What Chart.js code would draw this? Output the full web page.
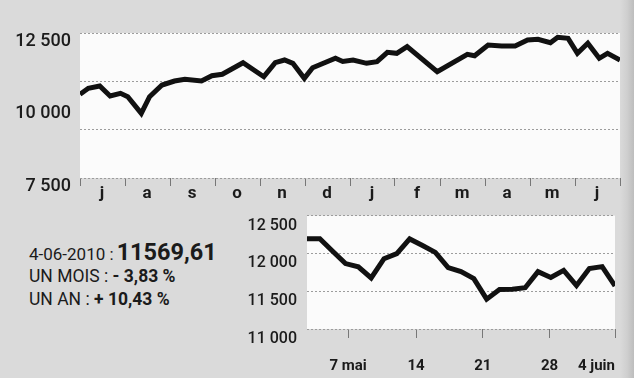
<!DOCTYPE html>
<html lang="fr">
<head>
<meta charset="utf-8">
<title>Indice — un an / un mois</title>
<script src="https://cdn.jsdelivr.net/npm/chart.js@4/dist/chart.umd.min.js"></script>
<style>
  html, body { margin: 0; padding: 0; }
  body {
    width: 634px; height: 378px; position: relative; overflow: hidden;
    background: linear-gradient(to right, #dadada 0, #dadada 620px, #cfcfcf 627px, #bdbdbd 634px);
    font-family: Roboto, "Liberation Sans", sans-serif; color: #1b1b1b;
  }
  canvas { position: absolute; }
  #yearChart { left: 0; top: 0; }
  #monthChart { left: 230px; top: 196px; }
  .info { position: absolute; left: 29px; display: flex; align-items: baseline; white-space: pre; line-height: 1; }
  .info b { font-weight: 700; }
  #l1 { top: 241px; font-size: 17px; }
  #l1 b { font-size: 23.5px; margin-left: 3px; }
  #l2 { top: 268px; font-size: 17.5px; }
  #l3 { top: 291px; font-size: 17.5px; }
</style>
</head>
<body>
<canvas id="yearChart" width="634" height="210"></canvas>
<canvas id="monthChart" width="404" height="182"></canvas>
<div class="info" id="l1"><span>4-06-2010 :</span><b id="close"></b></div>
<div class="info" id="l2"><span>UN MOIS : </span><b>- 3,83 %</b></div>
<div class="info" id="l3"><span>UN AN : </span><b>+ 10,43 %</b></div>

<script>
// Closing value of 4 June 2010 (last point of both curves)
const lastClose = 11569.61;

// One year, weekly closes (x = weeks since early July 2009)
const monthLetters = ['j', 'a', 's', 'o', 'n', 'd', 'j', 'f', 'm', 'a', 'm', 'j'];
const yearWeeks = [0, 0.8, 1.9, 2.9, 3.9, 4.6, 5.9, 6.7, 7.9, 9.1,
  10.1, 11.7, 12.7, 13.7, 15.7, 17.7, 18.8, 19.7, 20.5, 21.6,
  22.4, 24.6, 25.3, 26.3, 27.6, 28.6, 29.6, 30.5, 31.5, 34.4,
  37.3, 38.0, 39.3, 40.6, 41.9, 43.1, 44.1, 45.3, 46.0, 47.0,
  47.9, 48.9, 50.0, 50.8, 52.0];
const yearValues = [10386, 10593, 10672, 10328, 10421, 10303, 9731, 10303, 10707, 10845,
  10903, 10845, 11028, 11076, 11476, 10993, 11476, 11569, 11455, 10938,
  11303, 11628, 11517, 11569, 11455, 11510, 11834, 11800, 12028, 11166,
  11766, 11717, 12086, 12052, 12052, 12259, 12283, 12166, 12352, 12317,
  11800, 12145, 11628, 11800, lastClose];
const yearTickValues = [7500, 10000, 12500];
const yearGridValues = [7500, 9166.67, 10833.33, 12500];

// Last month, daily closes (x = session number)
const monthValues = [12194, 12194, 12029, 11865, 11822, 11675, 11930, 11996, 12191, 12105,
  12013, 11813, 11759, 11667, 11395, 11522, 11525, 11546, 11759, 11682,
  11776, 11575, 11799, 11825, lastClose];
const monthTickAt = [3.2, 8.5, 13.7, 18.9, 24];
const monthTickText = ['7 mai', '14', '21', '28', '4 juin'];
const monthAxisValues = [11000, 11500, 12000, 12500];

document.getElementById('close').textContent = lastClose.toFixed(2).replace('.', ',');

// "12 500" style thousands grouping
function frNumber(v) {
  return String(Math.round(v)).replace(/\B(?=(\d{3})+(?!\d))/g, ' ');
}

// Paints the white plotting surface behind the curve
const plotSurface = {
  id: 'plotSurface',
  beforeDraw(chart, args, opts) {
    const { ctx, chartArea: a } = chart;
    ctx.save();
    ctx.fillStyle = opts.color || '#fff';
    ctx.fillRect(a.left, a.top, a.right - a.left, a.bottom - a.top);
    ctx.restore();
  }
};

const ink = '#1b1b1b';
const gridGrey = '#9c9c9c';
const tickGrey = '#777';
const family = 'Roboto, "Liberation Sans", sans-serif';

Chart.defaults.animation = false;
Chart.defaults.responsive = false;
Chart.defaults.plugins.legend.display = false;
Chart.defaults.plugins.tooltip.enabled = false;

// ---- One-year chart ----
new Chart(document.getElementById('yearChart'), {
  type: 'line',
  data: {
    datasets: [{
      data: yearWeeks.map((w, i) => ({ x: w, y: yearValues[i] })),
      xAxisID: 'x', yAxisID: 'y',
      borderColor: '#111', borderWidth: 5, pointRadius: 0, tension: 0,
      borderJoinStyle: 'miter'
    }]
  },
  options: {
    layout: { padding: { top: 33, right: 14, left: 0, bottom: 0 } },
    plugins: { plotSurface: { color: '#fbfbfb' } },
    scales: {
      x: {
        type: 'linear', min: 0, max: 52,
        afterBuildTicks: s => { s.ticks = monthLetters.concat(['']).map((_, k) => ({ value: k * 52 / 12 })); },
        afterFit: s => { s.height = 32; },
        ticks: {
          autoSkip: false, maxRotation: 0, labelOffset: 22, padding: -2,
          color: ink, font: { family, size: 17, weight: 'bold' },
          callback: (v, i) => monthLetters[i] || ''
        },
        grid: { drawOnChartArea: false, tickLength: 8, tickColor: tickGrey, lineWidth: 1 },
        border: { display: false }
      },
      y: {
        type: 'linear', position: 'left', min: 7500, max: 12500,
        afterBuildTicks: s => { s.ticks = yearTickValues.map(v => ({ value: v })); },
        afterFit: s => { s.width = 80; },
        ticks: { labelOffset: 8, padding: 1, color: ink, font: { family, size: 18, weight: 500 }, callback: v => frNumber(v) },
        grid: { display: false },
        border: { display: false }
      },
      yGrid: {
        type: 'linear', position: 'left', min: 7500, max: 12500,
        afterBuildTicks: s => { s.ticks = yearGridValues.map(v => ({ value: v })); },
        afterFit: s => { s.width = 0; },
        ticks: { display: false },
        grid: { color: gridGrey, lineWidth: 1, drawTicks: false, tickLength: 0 },
        border: { display: false, dash: [2, 2] }
      }
    }
  },
  plugins: [plotSurface]
});

// ---- One-month chart ----
new Chart(document.getElementById('monthChart'), {
  type: 'line',
  data: {
    datasets: [{
      data: monthValues.map((v, i) => ({ x: i, y: v })),
      borderColor: '#111', borderWidth: 5, pointRadius: 0, tension: 0,
      borderJoinStyle: 'miter'
    }]
  },
  options: {
    layout: { padding: { top: 19, right: 14, left: 0, bottom: 0 } },
    plugins: { plotSurface: { color: '#fbfbfb' } },
    scales: {
      x: {
        type: 'linear', min: 0, max: monthValues.length - 1,
        afterBuildTicks: s => { s.ticks = [0].concat(monthTickAt).map(v => ({ value: v })); },
        afterFit: s => { s.height = 49; },
        ticks: {
          autoSkip: false, maxRotation: 0, align: 'inner', padding: 19,
          color: ink, font: { family, size: 15, weight: 'bold' },
          callback: (v, i) => (i === 0 ? '' : monthTickText[i - 1])
        },
        grid: {
          drawOnChartArea: false, tickLength: 9, lineWidth: 1,
          tickColor: c => (c.index === 0 ? 'rgba(0,0,0,0)' : tickGrey)
        },
        border: { display: false }
      },
      y: {
        type: 'linear', position: 'left', min: 11000, max: 12500,
        afterBuildTicks: s => { s.ticks = monthAxisValues.map(v => ({ value: v })); },
        afterFit: s => { s.width = 77; },
        ticks: { labelOffset: 10, padding: 10, color: ink, font: { family, size: 16, weight: 500 }, callback: v => frNumber(v) },
        grid: { color: gridGrey, lineWidth: 1, drawTicks: false, tickLength: 0 },
        border: { display: false, dash: [2, 2] }
      }
    }
  },
  plugins: [plotSurface]
});
</script>
</body>
</html>
